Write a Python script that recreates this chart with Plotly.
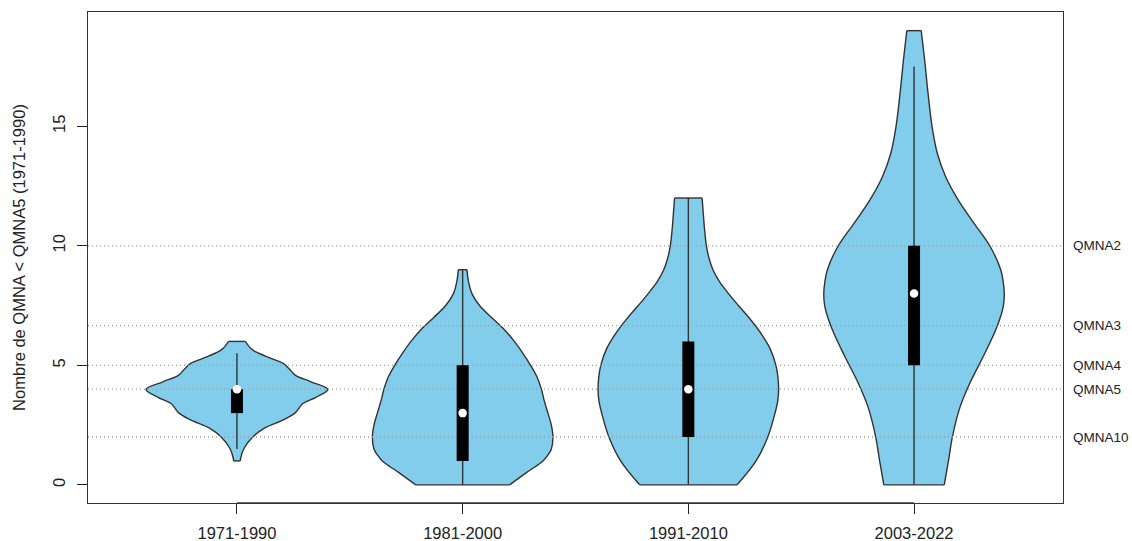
import numpy as np
import plotly.graph_objects as go

periods = ['1971-1990', '1981-2000', '1991-2010', '2003-2022']
positions = [1, 2, 3, 4]

# violin outlines: level on the y axis and half width in x axis units
levels_1 = [6.0, 5.7, 5.56, 5.29, 5.08, 4.87, 4.59, 4.31, 3.99, 3.66, 3.4, 3.01, 2.73, 2.36, 2.01, 1.52, 1.1, 1.0]
widths_1 = [.037, .062, .084, .151, .205, .230, .258, .328, .403, .350, .292, .258, .208, .120, .071, .031, .016, .015]

levels_2 = [9.0, 8.5, 8.0, 7.5, 7.0, 6.5, 6.0, 5.5, 5.0, 4.5, 4.0, 3.5, 3.0, 2.5, 2.0, 1.5, 1.25, 1.0, .5, 0]
widths_2 = [.019, .026, .041, .075, .128, .184, .229, .267, .301, .330, .349, .362, .378, .393, .400, .393, .378, .356, .281, .208]

levels_3 = [12.0, 11.5, 10.66, 10.0, 9.5, 9.0, 8.5, 8.0, 7.5, 7.0, 6.4, 5.7, 5.0, 4.5, 4.0, 3.5, 3.0, 2.0, 1.0, 0]
widths_3 = [.061, .065, .072, .080, .091, .109, .138, .178, .222, .268, .317, .362, .388, .397, .400, .396, .384, .352, .300, .216]

levels_4 = [19.0, 17.77, 16.38, 14.98, 13.87, 12.89, 11.91, 10.94, 9.96, 9.0, 8.5, 8.0, 7.5, 7.0, 6.35, 5.36, 4.25, 3.26, 2.01, 1.03, 0]
widths_4 = [.032, .047, .062, .080, .103, .140, .196, .266, .338, .384, .395, .400, .396, .382, .356, .306, .247, .204, .170, .153, .134]

whisker_low = [1.5, 0, 0, 0]
whisker_high = [5.5, 9, 12, 17.5]
q1 = [3, 1, 2, 5]
q3 = [4, 5, 6, 10]
medians = [4, 3, 4, 8]

ref_names = ['QMNA2', 'QMNA3', 'QMNA4', 'QMNA5', 'QMNA10']
ref_values = [10, 6.66, 5, 4, 2]

FILL = '#82CDEC'
DARK = '#333333'
x_range = [0.34, 4.66]
y_range = [-0.76, 19.78]

fig = go.Figure()

all_levels = [levels_1, levels_2, levels_3, levels_4]
all_widths = [widths_1, widths_2, widths_3, widths_4]

for pos, lev, wid in zip(positions, all_levels, all_widths):
    lev = np.array(lev)
    wid = np.array(wid)
    line = dict(color=DARK, width=1.4, shape='spline', smoothing=1)
    # left edge, then right edge filled back to it
    fig.add_trace(go.Scatter(x=pos - wid, y=lev, mode='lines', line=line))
    fig.add_trace(go.Scatter(x=pos + wid, y=lev, mode='lines', line=line, fill='tonextx', fillcolor=FILL))
    # flat ends of the violin
    fig.add_trace(go.Scatter(x=[pos - wid[0], pos + wid[0], None, pos - wid[-1], pos + wid[-1]],
                             y=[lev[0], lev[0], None, lev[-1], lev[-1]],
                             mode='lines', line=dict(color=DARK, width=1.4)))

# dotted reference lines
for val in ref_values:
    fig.add_trace(go.Scatter(x=x_range, y=[val, val], mode='lines',
                             line=dict(color='#9C9C9C', width=1.3, dash='1px 3px')))

# whiskers, boxes, medians
for i, pos in enumerate(positions):
    fig.add_trace(go.Scatter(x=[pos, pos], y=[whisker_low[i], whisker_high[i]], mode='lines',
                             line=dict(color=DARK, width=1.4)))
    fig.add_trace(go.Scatter(x=[pos, pos], y=[q1[i], q3[i]], mode='lines',
                             line=dict(color='black', width=12)))
fig.add_trace(go.Scatter(x=positions, y=medians, mode='markers',
                         marker=dict(color='white', size=8.5)))

# axis line of the x axis is drawn over the box between first and last tick
fig.add_trace(go.Scatter(x=[positions[0], positions[-1]], y=[y_range[0], y_range[0]], mode='lines',
                         line=dict(color=DARK, width=1.6), cliponaxis=False))

for name, val in zip(ref_names, ref_values):
    fig.add_annotation(x=1, xref='paper', y=val, yref='y', text=name, showarrow=False,
                       xanchor='left', xshift=8, font=dict(size=13.5, color='#222222'))

fig.update_layout(
    template='none',
    width=1132,
    height=541,
    margin=dict(l=88, r=69, t=12, b=38, pad=0),
    showlegend=False,
    plot_bgcolor='white',
    paper_bgcolor='white',
    font=dict(family='Liberation Sans', color='#222222', size=16),
    xaxis=dict(range=x_range, tickvals=positions, ticktext=periods, ticks='outside', ticklen=10, tickwidth=1.4,
               tickcolor='#222222', showgrid=False, zeroline=False, showline=True, linecolor=DARK,
               linewidth=1, mirror=True, tickfont=dict(size=16.5), ticklabelstandoff=5, automargin=False),
    yaxis=dict(range=y_range, tickvals=[0, 5, 10, 15], ticks='outside', ticklen=10, tickangle=-90, tickwidth=1.4,
               tickcolor='#222222', showgrid=False, zeroline=False, showline=True, linecolor=DARK,
               linewidth=1, mirror=True, tickfont=dict(size=16.5), ticklabelstandoff=5, automargin=False,
               title=dict(text='Nombre de QMNA < QMNA5 (1971-1990)', font=dict(size=16.5), standoff=20)),
)

# the page body has a default margin, drop it so the figure sits at 0,0
fig.write_html("out.html", config=dict(displayModeBar=False), post_script="document.body.style.margin='0';")
